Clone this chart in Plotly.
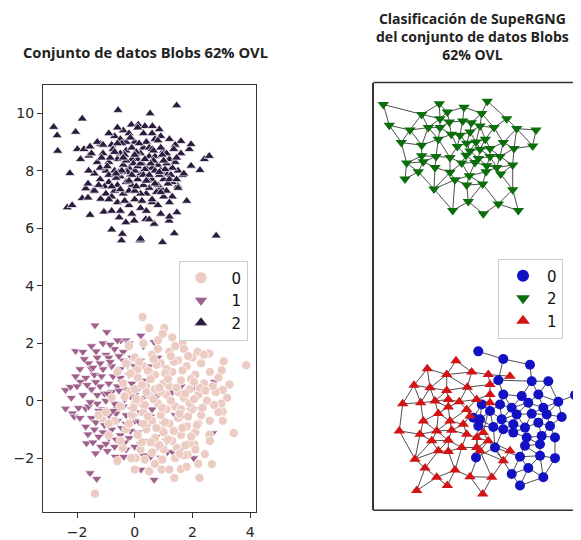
import numpy as np
import plotly.graph_objects as go

# ---------------- Left panel data: Blobs dataset (x, y) per class ----------------
class2_x = [-2.81,-2.69,-2.67,-1.82,-2.05,-0.58,0.53,1.45,-2.25,-2.34,-2.17,-1.82,-1.55,-1.07,-0.80,-0.46,-0.43,0.18,0.20,0.96,1.37,2.82,1.80,2.26,2.41,2.58,1.95,1.89,1.95,1.60,0.85,-0.12,0.12,0.35,0.61,1.66,1.49,1.46,1.19,0.67,0.38,-0.02,-0.31,-0.54,-1.99,-1.76,-1.55,-1.18,-1.88,-1.59,-1.70,-1.62,-1.41,-1.62,-1.18,
            -1.3,-1.1,-1.0,-0.9,-0.8,-0.7,-0.6,-0.5,-0.4,-0.3,-0.2,-0.1,0.0,0.1,0.2,0.3,0.4,0.5,0.6,0.7,0.8,0.9,1.0,1.1,1.2,1.3,1.4,1.5,-1.2,-1.0,-0.8,-0.6,-0.4,-0.2,0.0,0.2,0.4,0.6,0.8,1.0,1.2,-0.9,-0.5,-0.2,0.3,0.6,0.9,1.2,-1.4,-1.5,-1.3,-0.7,-0.3,0.1,0.5,0.9,1.3,-0.6,-0.1,0.4,0.7,1.1,-0.9,-0.4,0.0,0.3,0.6,0.8,1.0,-0.2,0.2,-0.7,-1.1,-0.3,0.4,0.9,1.4,1.6,1.5,1.7,-1.6,-1.4,-0.8,-0.5,0.9,1.2,0.5,-0.1,0.2,-0.5,0.6,-0.9,1.1,0.0,-0.1,0.5,-1.2,0.7,1.3,-0.6,0.1,
            -1.15,-0.95,-0.75,-0.55,-0.35,-0.15,0.05,0.25,0.45,0.65,0.85,1.05,1.25,1.45,-1.05,-0.85,-0.65,-0.45,-0.25,-0.05,0.15,0.35,0.55,0.75,0.95,1.15,1.35,-0.9,-0.7,-0.5,-0.3,-0.1,0.1,0.3,0.5,0.7,0.9,1.1,-0.8,-0.6,-0.4,-0.2,0.0,0.2,0.4,0.6,0.8,1.0,-1.25,-0.45,0.35,1.2,-0.15,0.65,0.05,-0.65,1.45,0.25,-0.35,0.85]
class2_y = [9.52,9.23,8.69,9.81,9.35,10.11,9.99,10.27,7.91,6.72,6.80,7.04,6.46,6.57,5.95,5.57,5.80,5.57,5.63,5.51,5.82,5.74,6.95,8.02,8.40,8.51,8.17,8.75,8.92,9.03,9.44,9.60,9.60,9.55,9.55,7.84,7.47,6.55,6.26,6.15,6.31,6.26,6.20,6.37,8.75,8.75,8.84,8.93,8.40,8.52,7.38,7.55,7.34,7.06,7.02,
            8.3,8.6,8.0,7.6,8.9,9.2,8.4,7.8,9.4,8.7,8.1,7.5,9.0,8.4,7.9,8.8,7.2,8.5,7.7,9.1,8.2,7.4,8.7,7.9,8.4,7.1,8.9,8.0,7.7,7.2,7.1,6.9,7.2,6.8,7.0,6.7,6.6,6.9,6.8,7.1,6.9,9.3,9.1,9.3,9.3,9.3,9.2,9.1,7.9,8.6,9.0,8.0,7.6,7.7,7.4,8.0,7.6,7.5,8.4,8.1,8.5,8.6,8.3,8.2,8.0,7.5,8.1,7.5,7.7,7.3,7.2,7.3,8.9,9.0,9.0,8.8,8.3,8.6,7.4,7.9,8.0,7.3,6.6,6.6,6.5,6.4,6.3,6.5,8.6,8.6,7.0,7.0,7.3,7.3,8.8,8.8,8.1,8.0,8.1,9.5,9.5,
            8.45,8.15,8.75,7.95,8.55,7.85,8.65,8.25,7.65,8.35,7.85,8.05,7.85,8.45,7.45,8.45,7.75,8.95,7.95,8.25,8.95,8.05,8.25,7.25,8.55,7.55,8.75,7.85,8.65,7.35,8.35,7.85,8.15,7.85,7.85,7.55,7.25,8.25,7.45,8.95,8.45,7.65,8.55,8.25,7.65,8.75,9.05,8.35,7.5,8.0,8.4,7.7,9.15,8.7,7.45,7.9,7.7,6.95,6.95,7.95]

class0_x = [0.27,0.50,1.02,0.97,1.66,2.18,2.58,3.08,3.86,3.01,3.28,3.05,3.05,3.05,3.43,2.58,2.43,2.67,2.24,1.37,1.60,0.93,0.50,0.03,-0.12,-1.38,-0.42,-1.14,-1.25,2.07,1.83,
            0.0,0.3,0.6,0.9,1.2,1.5,1.8,2.1,2.4,0.1,0.4,0.7,1.0,1.3,1.6,1.9,2.2,2.5,2.8,-0.2,0.2,0.5,0.8,1.1,1.4,1.7,2.0,2.3,2.6,-0.5,-0.1,0.3,0.6,0.9,1.2,1.5,1.8,2.1,-0.7,-0.3,0.1,0.4,0.7,1.0,1.3,1.6,1.9,-0.9,-0.5,0.2,0.6,1.0,1.4,1.7,2.1,-0.2,0.3,0.8,1.3,1.7,2.3,2.6,2.9,3.2,2.9,2.6,0.0,0.9,1.5,0.5,1.1,0.3,1.1,1.9,-0.4,-0.8,-1.0,-0.6,-0.3,0.7,1.2,1.8,2.2,0.0,-0.6,-0.9,2.4,2.0,0.8,1.4,2.7,3.0,2.2,1.6,0.4,0.7,1.2,0.0,-0.2,0.1,
            0.15,0.45,0.75,1.05,1.35,1.65,1.95,2.25,0.25,0.55,0.85,1.15,1.45,1.75,2.05,2.35,0.05,0.35,0.65,0.95,1.25,1.55,1.85,2.15,0.45,0.75,1.05,1.35,1.65,1.95,-0.35,-0.05,0.25,0.55,0.85,1.15,1.45,1.75,2.45,2.75,-0.15,0.65,1.25,1.85,0.95,1.55,0.35,2.05]
class0_y = [2.91,2.53,2.53,2.33,1.99,1.70,1.64,1.37,1.23,1.06,0.56,0.37,-0.38,-0.70,-1.13,-1.19,-1.86,-2.21,-2.69,-2.69,-2.38,-2.40,-2.46,-2.0,-2.0,-3.24,-1.65,-0.61,-0.50,-1.53,-1.88,
            1.5,1.2,1.6,1.3,1.7,1.4,1.2,0.9,0.6,0.8,0.5,0.9,0.6,1.0,0.7,0.4,0.2,0.0,0.3,0.3,0.0,0.2,-0.1,0.2,-0.2,0.1,-0.3,-0.5,-0.7,-0.2,-0.5,-0.4,-0.7,-0.5,-0.8,-0.6,-0.9,-1.1,-0.7,-1.0,-1.2,-1.0,-1.3,-1.1,-1.4,-1.2,-1.5,-1.2,-1.4,-1.7,-1.8,-1.7,-2.0,-1.9,-1.7,1.9,2.0,2.1,2.2,1.8,1.3,1.0,0.8,0.1,-0.4,-1.4,-0.1,0.3,0.3,1.0,1.1,-0.8,-0.3,-0.1,0.6,0.1,-0.4,1.0,1.3,-2.2,-2.4,-2.3,-2.2,-2.4,-2.1,-0.8,1.6,1.5,1.8,1.9,0.5,-0.1,-0.8,-0.3,0.3,0.4,0.5,0.4,-0.8,1.1,
            1.35,1.05,1.25,0.95,1.35,1.05,0.75,0.45,0.55,0.75,0.45,0.75,0.45,0.25,0.05,-0.25,0.05,-0.15,0.05,-0.25,0.0,-0.45,-0.55,-0.85,-0.55,-0.95,-0.75,-1.05,-0.95,-1.25,0.15,-0.25,-1.45,-1.45,-1.55,-1.35,-1.65,-1.55,0.35,-0.15,0.95,1.45,1.55,1.55,-2.05,-1.85,-2.05,0.65]

class1_x = [-1.38,-0.97,-2.05,-1.34,-0.49,-0.31,0.21,0.67,-2.40,-2.23,-2.40,-2.16,-2.10,-1.88,-1.70,-1.62,-1.67,-1.36,-1.18,-1.55,-1.32,-0.67,-0.38,0.21,0.67,0.55,0.90,1.13,1.31,1.54,2.04,2.70,1.95,1.78,2.76,2.04,1.60,1.31,
            -1.9,-1.6,-1.3,-1.0,-0.7,-0.4,-0.1,0.2,0.5,-2.0,-1.7,-1.4,-1.1,-0.8,-0.5,-0.2,0.1,0.4,-1.8,-1.5,-1.2,-0.9,-0.6,-0.3,0.0,0.3,-1.6,-1.3,-1.0,-0.7,-0.4,-0.1,0.2,-1.5,-1.2,-0.9,-0.6,-0.3,0.0,0.4,-1.4,-1.1,-0.8,-0.5,-0.2,0.1,0.5,-1.0,-0.7,-0.3,0.0,0.3,0.8,-1.8,-1.5,-1.1,-0.6,-0.2,0.3,0.8,1.1,1.3,1.4,1.0,0.8,0.6,-1.9,-2.2,-1.7,-1.3,-0.8,-0.3,-0.9,-0.4,-1.2,0.0,-0.6,-1.1,-0.1,-0.5,-1.5,0.2,-0.9,-0.4,1.1,0.9,1.6,2.0,2.3,
            -1.75,-1.45,-1.15,-0.85,-0.55,-0.25,0.05,0.35,-1.65,-1.35,-1.05,-0.75,-0.45,-0.15,0.15,-1.55,-1.25,-0.95,-0.65,-0.35,-0.05,0.25,-1.35,-1.05,-0.75,-0.45,-0.15,0.15,-1.25,-0.95,-0.65,-0.35,-0.05,-2.05,-1.95,0.55,0.75,-0.85,-1.45,-0.55]
class1_y = [2.62,2.39,1.73,1.72,2.10,2.10,2.27,2.04,0.37,0.48,-0.27,-0.44,-0.55,0.66,-0.27,-1.17,-1.48,-1.83,-1.60,-2.52,-2.72,-1.95,-1.95,-2.40,-2.75,-1.95,-1.98,-1.79,-1.79,-1.73,-2.00,-1.13,-0.33,-0.85,0.66,0.45,-0.58,1.39,
            1.1,1.3,1.5,1.6,1.8,1.7,1.5,1.4,1.2,0.5,0.8,0.9,1.1,1.2,1.1,0.9,0.8,0.7,0.2,0.4,0.5,0.6,0.5,0.4,0.2,0.1,-0.2,-0.1,0.0,-0.1,-0.2,-0.3,-0.4,-0.6,-0.6,-0.5,-0.7,-0.8,-0.7,-0.9,-1.0,-1.1,-1.0,-1.2,-1.3,-1.1,-1.4,-1.5,-1.6,-1.7,-1.6,-1.9,-1.6,1.7,1.9,2.0,2.1,2.0,1.9,1.5,1.0,0.3,-0.5,-0.8,0.2,-0.3,-0.6,0.1,-0.9,0.2,0.3,-0.5,1.5,1.4,1.3,1.2,-0.3,-0.3,0.6,0.8,1.1,-1.5,-1.3,-1.5,-1.4,-1.0,0.5,0.8,-0.3,
            1.45,1.15,0.85,1.35,1.55,1.25,1.05,0.45,0.55,0.65,0.25,0.85,0.65,0.15,0.45,-0.05,-0.35,0.25,-0.45,0.05,-0.55,-0.15,-0.75,-0.85,-0.35,-0.95,-1.05,-0.75,-1.25,-1.75,-1.35,-1.45,-1.95,0.85,-0.25,-0.55,-1.25,1.95,-1.45,0.35]

x_ticks = [-2, 0, 2, 4]
x_ticktext = ["\u22122", "0", "2", "4"]
y_ticks = [-2, 0, 2, 4, 6, 8, 10]
y_ticktext = ["\u22122", "0", "2", "4", "6", "8", "10"]

# ---------------- Right panel data: SupeRGNG node positions (layout units) ----------------
green_x = [383.3,439.3,464,487.3,421.7,447.3,481.7,389.3,410,428.3,440,449.3,462.7,471.3,494,506.7,516.7,536,440,451.3,460,470,480,401.3,421.7,438.3,457.3,466.7,476,485.3,503.3,532.7,514,470,480,490,421.7,436,450,466,478.3,490,500,406.7,423.3,435,461.7,475,486.7,496.7,512.7,418.3,450,469.3,486,500.7,405,455,466.7,482.7,434,512.7,468.3,498.3,452.7,483.3,518.3]
green_y = [105,104.3,107.7,101.7,115,112.7,114,126,130.7,128.3,119.3,122.7,121.7,123.3,128.3,119.3,129.3,130.7,128.3,135,136,132.7,126.7,143.3,146,140,147.3,144,142.7,140,143.3,146.7,149.3,151.7,150,149.3,156.7,157.3,158.3,156,159.3,157.3,157.3,164,162.7,168.3,164,163.3,166.7,168.3,166,172.7,173.3,176.7,172.7,175,180,180.7,186,185,190,190.7,202.7,205,211.7,215,211.7]

blue_x = [478.3,503.3,530,498.3,531.7,548.3,503.3,521.7,538.3,575,481.7,500,511.7,528.3,543.3,558.3,473.3,480,490,501.7,516.7,531.7,546.7,561.7,478.3,493.3,503.3,513.3,525,538.3,550,513.3,526.7,541.7,555,495,525,540,476,520,540,555,528.3,511.7,543.3,520]
blue_y = [353.3,361,366.7,382.3,383.3,383.3,396.7,398.3,396.7,397.3,406.7,406.7,410,405,410,404,420,421.7,413.3,421.7,416.7,416,416.7,419.3,428.3,429.3,431.7,426.7,430,425,428.3,435,440,438.3,440,450,448.3,446.7,460,459.3,458.3,460.7,470.7,476.7,480,488.3]

red_x = [456,427.3,446.7,471.7,488.3,510,414,430,446.7,467.3,490,402.7,420.7,435,448.3,459.3,476.7,490,490,438.3,448.3,466.7,470,423.3,450,463.3,399.3,420,436.7,451.7,466.7,483.3,431.7,448.3,461.7,476.7,488.3,438.3,476.7,480,415,448.3,510,425,455,503.3,436.7,470,491.7,416.7,447.3,482.7]
red_y = [362.7,370.7,376.7,374,376.7,378.3,387.3,390,392.7,389.3,386.7,406,405,403.3,401.7,404,401.7,396.7,405,415.7,409.3,411.7,418.3,423.3,423.3,426.7,433.3,436.7,433.3,432.7,436.7,435,443.3,442.7,450,440,443.3,453.3,450,453.3,461.7,454,453.3,470.7,472.7,463.3,480,479.3,480,493.3,488.3,496.7]

for a, b in [(class0_x, class0_y), (class1_x, class1_y), (class2_x, class2_y),
             (green_x, green_y), (blue_x, blue_y), (red_x, red_y)]:
    assert len(a) == len(b), (len(a), len(b))

# ---------------- Colours ----------------
C0, C1, C2 = "#ebcbc2", "#a0608c", "#2b1c3d"
BLUE, GREEN, RED = "#1212c4", "#0a6e0a", "#d41414"
EDGE = "#3a3a3a"
TICKFONT = dict(family="DejaVu Sans", size=14, color="#262626")

# page body has an 8px margin; window is 581x540
OFF = 8
W, H = 581 - OFF, 540 - OFF


def px(x):
    return (x - OFF) / W


def py(y):
    return 1 - (y - OFF) / H


def gabriel_edges(xs, ys, max_len):
    p = np.column_stack([xs, ys]).astype(float)
    n = len(p)
    ex, ey = [], []
    for i in range(n):
        for j in range(i + 1, n):
            d2 = np.sum((p[i] - p[j]) ** 2)
            if d2 > max_len ** 2:
                continue
            mid = (p[i] + p[j]) / 2
            dk = np.sum((p - mid) ** 2, axis=1)
            dk[[i, j]] = np.inf
            if np.all(dk >= d2 / 4):
                ex += [p[i, 0], p[j, 0], None]
                ey += [p[i, 1], p[j, 1], None]
    return ex, ey


fig = go.Figure()

# Left scatter
mk_line = dict(color="white", width=0.7)
left_specs = [("0", class0_x, class0_y, "circle", C0),
              ("1", class1_x, class1_y, "triangle-down", C1),
              ("2", class2_x, class2_y, "triangle-up", C2)]
for name, xs, ys, sym, col in [left_specs[1], left_specs[0], left_specs[2]]:
    fig.add_trace(go.Scatter(x=xs, y=ys, mode="markers", showlegend=False,
                             marker=dict(symbol=sym, size=9, color=col, line=mk_line),
                             xaxis="x", yaxis="y"))
# legend entries (bigger symbols, as in the reference legend)
for rank, (name, xs, ys, sym, col) in enumerate(left_specs):
    fig.add_trace(go.Scatter(x=[None], y=[None], mode="markers", name="\u00a0\u00a0" + name,
                             marker=dict(symbol=sym, size=12, color=col, line=mk_line),
                             legend="legend", legendrank=rank + 1, xaxis="x", yaxis="y"))

# Right graph: edges then nodes
for xs, ys in [(green_x, green_y), (red_x, red_y), (blue_x, blue_y)]:
    ex, ey = gabriel_edges(xs, ys, 42)
    fig.add_trace(go.Scatter(x=ex, y=ey, mode="lines", line=dict(color=EDGE, width=0.9),
                             showlegend=False, hoverinfo="skip", xaxis="x2", yaxis="y2"))

right_specs = [("0", blue_x, blue_y, "circle", BLUE),
               ("2", green_x, green_y, "triangle-down", GREEN),
               ("1", red_x, red_y, "triangle-up", RED)]
for rank, (name, xs, ys, sym, col) in enumerate(right_specs):
    fig.add_trace(go.Scatter(x=xs, y=ys, mode="markers", showlegend=False,
                             marker=dict(symbol=sym, size=10, color=col),
                             xaxis="x2", yaxis="y2"))
    fig.add_trace(go.Scatter(x=[None], y=[None], mode="markers", name=name,
                             marker=dict(symbol=sym, size=12, color=col),
                             legend="legend2", legendrank=rank + 1, xaxis="x2", yaxis="y2"))

axis_common = dict(showgrid=False, zeroline=False, showline=True, linecolor="#333333",
                   linewidth=1.2, mirror=True, ticks="outside", ticklen=5, tickwidth=1.1,
                   tickcolor="#333333", tickfont=TICKFONT)

leg_common = dict(bgcolor="white", bordercolor="#cccccc", borderwidth=1,
                  font=dict(family="DejaVu Sans", size=15, color="#111111"),
                  xanchor="left", yanchor="top", tracegroupgap=0)

fig.update_layout(
    width=W, height=H, margin=dict(l=0, r=0, t=0, b=0),
    paper_bgcolor="white", plot_bgcolor="white",
    xaxis=dict(domain=[px(43), px(256)], range=[-3.18, 4.2], tickvals=x_ticks,
               ticktext=x_ticktext, anchor="y", ticklabelstandoff=2, **axis_common),
    yaxis=dict(domain=[py(515), py(85)], range=[-3.88, 11.0], tickvals=y_ticks,
               ticktext=y_ticktext, anchor="x", **axis_common),
    xaxis2=dict(domain=[px(374), 1.0], range=[374, 581], showgrid=False, zeroline=False,
                showline=False, showticklabels=False, ticks="", anchor="y2"),
    yaxis2=dict(domain=[py(513), py(83)], range=[513, 83], showgrid=False,
                zeroline=False, showline=True, linecolor="#333333", linewidth=1.5,
                mirror=False, showticklabels=False, ticks="", anchor="x2"),
    legend=dict(x=px(179), y=py(262), itemwidth=32, **leg_common),
    legend2=dict(x=px(498), y=py(260), itemwidth=38, **leg_common),
    shapes=[
        dict(type="line", xref="paper", yref="paper", x0=px(373.3), x1=1.05, y0=py(83), y1=py(83),
             line=dict(color="#333333", width=1.5)),
        dict(type="line", xref="paper", yref="paper", x0=px(373.3), x1=1.05, y0=py(513), y1=py(513),
             line=dict(color="#333333", width=1.5)),
    ],
    annotations=[
        dict(text="<b>Conjunto de datos Blobs 62% OVL</b>", x=px(145), y=py(52),
             xref="paper", yref="paper", showarrow=False, xanchor="center", yanchor="middle",
             font=dict(family="Open Sans", size=14.7, color="#222222")),
        dict(text="<b>Clasificación de SupeRGNG<br>del conjunto de datos Blobs<br>62% OVL</b>",
             x=px(472), y=py(37), xref="paper", yref="paper", showarrow=False,
             xanchor="center", yanchor="middle",
             font=dict(family="Open Sans", size=14, color="#222222")),
    ],
)

fig.write_html("out.html")
